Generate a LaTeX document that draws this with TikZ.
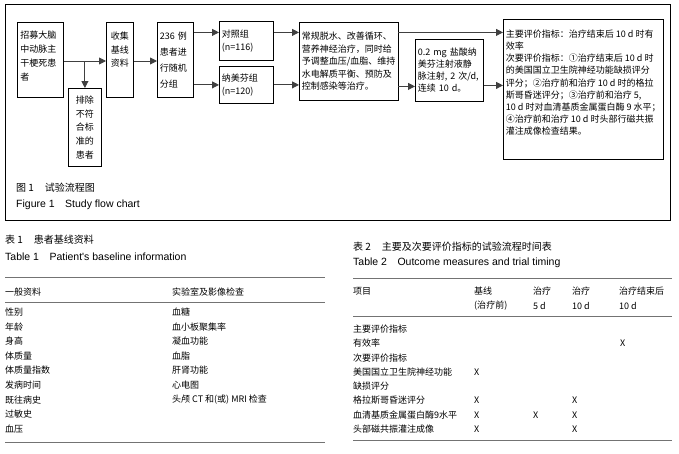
\documentclass[tikz,border=0pt]{standalone}
\usepackage{fontspec}
\setmainfont{Noto Sans CJK SC}
\newfontfamily\en{Liberation Sans}
\usetikzlibrary{arrows.meta, positioning}

\tikzset{
    box/.style={draw, line width=0.8pt, anchor=north west, align=left, inner xsep=2.5pt, inner ysep=0pt, font=\fontsize{9}{13}\selectfont},
    arr/.style={-{Triangle[length=7pt,width=7pt]}, line width=0.9pt, black!75},
    cell/.style={anchor=west, inner sep=0pt, font=\fontsize{9}{11}\selectfont, text=black},
    captext/.style={anchor=west, inner sep=0pt, font=\fontsize{10}{12}\selectfont, text=black},
    capen/.style={captext, font=\en\fontsize{10.5}{12}\selectfont},
    rule/.style={black!55, line width=0.8pt}
}

\begin{document}
\begin{tikzpicture}[x=1pt, y=-1pt]
    \useasboundingbox (0,0) rectangle (679,453);

    % Frame of figure 1
    \draw[line width=0.8pt] (5,4) rectangle (670,220);

    % Recruitment
    \node[box, text width=40pt, minimum width=46pt, minimum height=75pt, font=\fontsize{9}{14}\selectfont] (recruit) at (17,22) {招募大脑\\中动脉主\\干梗死患\\者\\[-6pt]\mbox{}};

    % Excluded
    \node[box, align=center, text width=28pt, minimum width=33pt, minimum height=78pt, font=\fontsize{9}{13.7}\selectfont] (exclude) at (68,88) {排除\\不符\\合标\\准的\\患者};

    % Baseline data
    \node[box, align=center, text width=22pt, minimum width=27pt, minimum height=75pt, font=\fontsize{9}{13.5}\selectfont] (collect) at (106,22) {收集\\基线\\资料\\[7pt]\mbox{}};

    % Randomisation
    \node[box, text width=31pt, minimum width=36pt, minimum height=75pt, font=\fontsize{9}{16}\selectfont] (random) at (157,22) {236 例\\患者进\\行随机\\分组};

    % Groups
    \node[box, text width=49pt, minimum width=54pt, minimum height=39pt] (ctrl) at (219,21) {对照组\\(\textit{n}=116)};
    \node[box, text width=49pt, minimum width=54pt, minimum height=37pt] (nal) at (219,66) {纳美芬组\\(\textit{n}=120)};

    % Routine treatment
    \node[box, minimum width=98pt, minimum height=78pt, font=\fontsize{9}{12.5}\selectfont] (routine) at (299,22) {常规脱水、改善循环、\\营养神经治疗，同时给\\予调整血压/血脂、维持\\水电解质平衡、预防及\\控制感染等治疗。};

    % Nalmefene
    \node[box, text width=63pt, minimum width=68pt, minimum height=62pt, font=\fontsize{9}{12}\selectfont] (drug) at (415,39) {0.2 mg 盐酸纳\\美芬注射液静\\脉注射, 2 次/d,\\连续 10 d。};

    % Outcome measures
    \node[box, minimum width=156pt, minimum height=140pt, font=\fontsize{9}{12.2}\selectfont] (outcome) at (503,19) {主要评价指标：治疗结束后 10 d 时有\\效率\\次要评价指标：①治疗结束后 10 d 时\\的美国国立卫生院神经功能缺损评分\\评分；②治疗前和治疗 10 d 时的格拉\\斯哥昏迷评分；③治疗前和治疗 5,\\10 d 时对血清基质金属蛋白酶 9 水平；\\④治疗前和治疗 10 d 时头部行磁共振\\灌注成像检查结果。\\[2pt]\mbox{}};

    % Arrows
    \draw[arr] (recruit.east |- 0,61) -- (collect.west |- 0,61);
    \draw[arr] (exclude.north |- 0,61) -- (exclude.north);
    \draw[arr] (collect.east |- 0,61) -- (random.west |- 0,61);
    \draw[arr] ([yshift=8.5pt]ctrl.west -| random.east) -- ([yshift=8.5pt]ctrl.west);
    \draw[arr] (nal.west -| random.east) -- (nal.west);
    \draw[arr] ([yshift=8.5pt]ctrl.east) -- ([yshift=8.5pt]ctrl.east -| routine.west);
    \draw[arr] (nal.east) -- (nal.east -| routine.west);
    \draw[arr] ([yshift=-16pt]drug.west -| routine.east) -- ([yshift=-16pt]drug.west);
    \draw[arr] ([yshift=57pt]outcome.west -| routine.east) -- ([yshift=57pt]outcome.west);
    \draw[arr] ([yshift=4pt]outcome.west -| drug.east) -- ([yshift=4pt]outcome.west);

    % Caption of figure 1
    \node[captext] (figcn) at (16,188) {图 1\hspace{1.1em}试验流程图};
    \node[capen] (figen) at (16,205) {Figure 1\hspace{1em}Study flow chart};

    % Table 1
    \node[captext] (tab1cn) at (5,240) {表 1\hspace{1.1em}患者基线资料};
    \node[capen] (tab1en) at (5,257) {Table 1\hspace{1em}Patient's baseline information};
    \draw[rule] (5,277) -- (325,277);
    \node[cell] (t1h1) at (5,292) {一般资料};
    \node[cell] (t1h2) at (172,292) {实验室及影像检查};
    \draw[rule] (5,302) -- (325,302);
    \node[cell] (t1a1) at (5,312) {性别};
    \node[cell] (t1a2) at (5,326.6) {年龄};
    \node[cell] (t1a3) at (5,341.2) {身高};
    \node[cell] (t1a4) at (5,355.8) {体质量};
    \node[cell] (t1a5) at (5,370.4) {体质量指数};
    \node[cell] (t1a6) at (5,385) {发病时间};
    \node[cell] (t1a7) at (5,399.6) {既往病史};
    \node[cell] (t1a8) at (5,414.2) {过敏史};
    \node[cell] (t1a9) at (5,428.8) {血压};
    \node[cell] (t1b1) at (172,312) {血糖};
    \node[cell] (t1b2) at (172,326.6) {血小板聚集率};
    \node[cell] (t1b3) at (172,341.2) {凝血功能};
    \node[cell] (t1b4) at (172,355.8) {血脂};
    \node[cell] (t1b5) at (172,370.4) {肝肾功能};
    \node[cell] (t1b6) at (172,385) {心电图};
    \node[cell] (t1b7) at (172,399.6) {头颅 CT 和(或) MRI 检查};
    \draw[rule] (5,442) -- (325,442);

    % Table 2
    \node[captext] (tab2cn) at (353,247) {表 2\hspace{1.1em}主要及次要评价指标的试验流程时间表};
    \node[capen] (tab2en) at (353,263) {Table 2\hspace{1em}Outcome measures and trial timing};
    \draw[rule] (353,278) -- (672,278);
    \node[cell] (t2h1) at (353,291) {项目};
    \node[cell] (t2h2) at (474,291) {基线};
    \node[cell] (t2h3) at (533,291) {治疗};
    \node[cell] (t2h4) at (572,291) {治疗};
    \node[cell] (t2h5) at (619,291) {治疗结束后};
    \node[cell] (t2s2) at (474,306) {(治疗前)};
    \node[cell] (t2s3) at (533,306) {5 d};
    \node[cell] (t2s4) at (572,306) {10 d};
    \node[cell] (t2s5) at (619,306) {10 d};
    \draw[rule] (353,316) -- (672,316);
    \node[cell] (t2r1) at (353,329) {主要评价指标};
    \node[cell] (t2r2) at (353,343.3) {有效率};
    \node[cell] (t2r3) at (353,357.6) {次要评价指标};
    \node[cell] (t2r4) at (353,372) {美国国立卫生院神经功能};
    \node[cell] (t2r5) at (353,386) {缺损评分};
    \node[cell] (t2r6) at (353,400.5) {格拉斯哥昏迷评分};
    \node[cell] (t2r7) at (353,415) {血清基质金属蛋白酶9水平};
    \node[cell] (t2r8) at (353,429) {头部磁共振灌注成像};
    % Marks
    \node[cell] (x2e) at (620,343.3) {X};
    \node[cell] (x4b) at (474,372) {X};
    \node[cell] (x6b) at (474,400.5) {X};
    \node[cell] (x6d) at (572,400.5) {X};
    \node[cell] (x7b) at (474,415) {X};
    \node[cell] (x7c) at (533,415) {X};
    \node[cell] (x7d) at (572,415) {X};
    \node[cell] (x8b) at (474,429) {X};
    \node[cell] (x8d) at (572,429) {X};
    \draw[rule] (353,440) -- (672,440);
\end{tikzpicture}
\end{document}
